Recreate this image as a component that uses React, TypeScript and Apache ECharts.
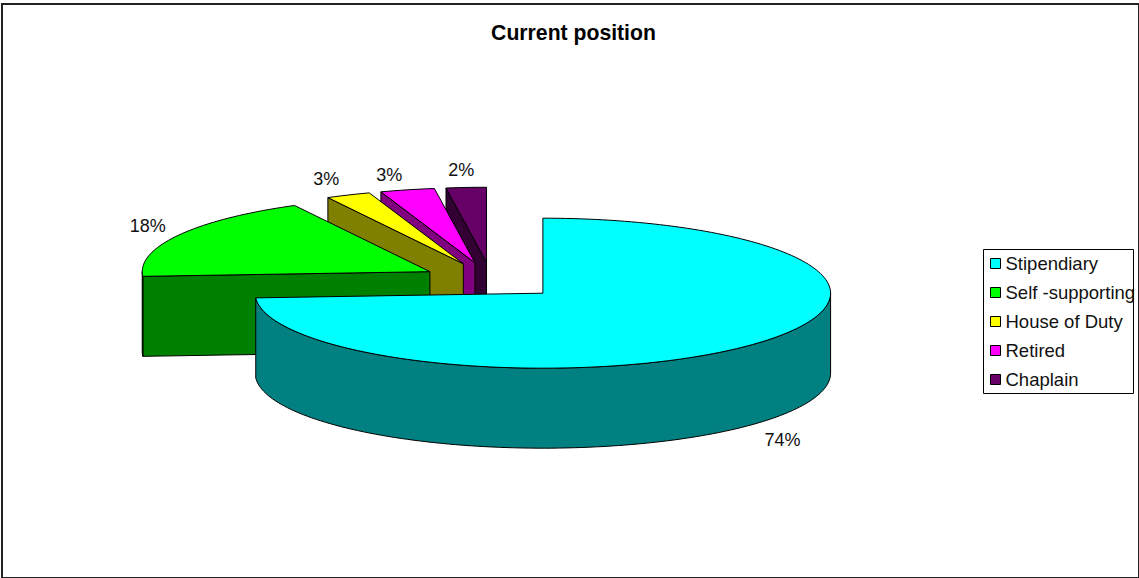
import React, { useEffect, useRef } from "react";
import * as echarts from "echarts";

const categories = ["Stipendiary", "Self -supporting", "House of Duty", "Retired", "Chaplain"];
const shares = [74, 18.2, 2.5, 3.05, 2.25];

const faceColors = ["#00FFFF", "#00FF00", "#FFFF00", "#FF00FF", "#660066"];
const wallColors = ["#008080", "#008000", "#808000", "#800080", "#330033"];
const labelNudges = [[30, 15], [-31, -9], [-22, -16], [-18, -15], [-5, -17]];

const PIE = { cx: 491.5, cy: 280.6, rx: 287.7, ry: 75, depth: 80, explode: 0.245 };
const FONT = "'Liberation Sans', Arial, sans-serif";
const total = shares.reduce((a, b) => a + b, 0);
const toRad = (d: number) => (d * Math.PI) / 180;

function renderSlice(index: number) {
  return (_params: any, api: any) => {
    const value = api.value(0) as number;
    const before = shares.slice(0, index).reduce((a, b) => a + b, 0);
    const start = (before / total) * 360;
    const end = start + (value / total) * 360;
    const mid = (start + end) / 2;
    const apexX = PIE.cx + PIE.explode * PIE.rx * Math.sin(toRad(mid));
    const apexY = PIE.cy - PIE.explode * PIE.ry * Math.cos(toRad(mid));
    const rim = (deg: number, drop = 0): number[] => [
      apexX + PIE.rx * Math.sin(toRad(deg)),
      apexY - PIE.ry * Math.cos(toRad(deg)) + drop,
    ];
    const arc = (a: number, b: number, drop = 0) => {
      const steps = Math.max(2, Math.ceil(Math.abs(b - a) / 1.5));
      const pts: number[][] = [];
      for (let i = 0; i <= steps; i++) pts.push(rim(a + ((b - a) * i) / steps, drop));
      return pts;
    };
    const line = { stroke: "#000", lineWidth: 1, lineJoin: "round" };
    const children: any[] = [];
    const wall = (points: number[][]) =>
      children.push({ type: "polygon", shape: { points }, style: { fill: wallColors[index], ...line } });
    const apex = [apexX, apexY];
    const apexLow = [apexX, apexY + PIE.depth];
    if (Math.sin(toRad(start)) < -1e-6) wall([apex, rim(start), rim(start, PIE.depth), apexLow]);
    if (Math.sin(toRad(end)) > 1e-6) wall([apex, rim(end), rim(end, PIE.depth), apexLow]);
    const a = Math.max(start, 90);
    const b = Math.min(end, 270);
    if (b > a) wall([...arc(a, b), ...arc(b, a, PIE.depth)]);
    children.push({
      type: "polygon",
      shape: { points: [apex, ...arc(start, end)] },
      style: { fill: faceColors[index], ...line },
    });
    const outer = rim(mid, Math.cos(toRad(mid)) < 0 ? PIE.depth : 0);
    children.push({
      type: "text",
      x: outer[0] + labelNudges[index][0],
      y: outer[1] + labelNudges[index][1],
      style: {
        text: `${Math.round(value)}%`,
        fill: "#111",
        fontSize: 18,
        fontFamily: FONT,
        align: "center",
        verticalAlign: "middle",
      },
    });
    return { type: "group", children };
  };
}

export default function App() {
  const ref = useRef<HTMLDivElement>(null);
  useEffect(() => {
    document.body.style.margin = "0";
    const chart = echarts.init(ref.current!, null, { renderer: "svg" });
    const order = categories.map((_, i) => i).reverse();
    chart.setOption({
      animation: false,
      backgroundColor: "#fff",
      title: {
        text: "Current position",
        left: 568.5,
        top: 17,
        textAlign: "center",
        textStyle: { fontSize: 21.2, fontWeight: "bold", color: "#000", fontFamily: FONT },
      },
      legend: {
        orient: "vertical",
        left: 990,
        top: 254,
        padding: 0,
        itemGap: 10,
        itemWidth: 10,
        itemHeight: 10,
        selectedMode: false,
        icon: "rect",
        data: categories,
        itemStyle: { borderColor: "#000", borderWidth: 1 },
        textStyle: { fontSize: 18.5, color: "#111", fontFamily: FONT },
      },
      graphic: [
        {
          type: "rect",
          z: -1,
          shape: { x: 2, y: 4, width: 1137, height: 574 },
          style: { fill: "#fff", stroke: "#222", lineWidth: 2 },
        },
        {
          type: "rect",
          z: -1,
          shape: { x: 983.5, y: 249.5, width: 150, height: 144 },
          style: { fill: "#fff", stroke: "#000", lineWidth: 1 },
        },
      ],
      series: order.map((i) => ({
        type: "custom",
        name: categories[i],
        coordinateSystem: "none",
        silent: true,
        clip: false,
        itemStyle: { color: faceColors[i] },
        data: [shares[i]],
        renderItem: renderSlice(i),
      })),
    });
    return () => chart.dispose();
  }, []);
  return (
    <div
      ref={ref}
      style={{ position: "fixed", left: 0, top: 0, width: 1139, height: 578, overflow: "hidden" }}
    />
  );
}
